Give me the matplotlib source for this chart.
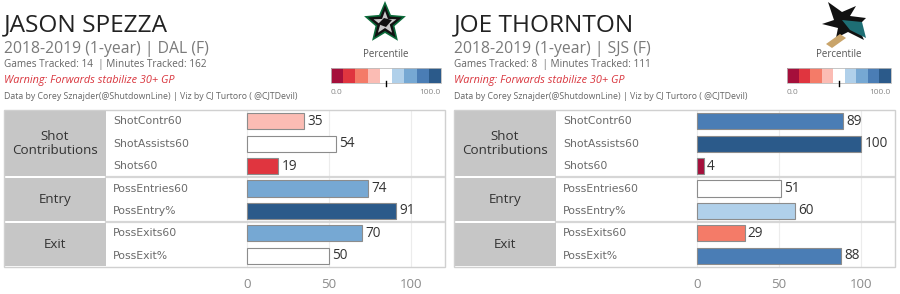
import numpy as np
import matplotlib.pyplot as plt
from matplotlib.patches import Rectangle, Polygon

W, H = 900, 294
plt.rcParams['font.family'] = ['Open Sans', 'DejaVu Sans']

# ---- data ----
players = ['JASON SPEZZA', 'JOE THORNTON']
teams = ['DAL', 'SJS']
season = '2018-2019 (1-year)'
games = [14, 8]
minutes = [162, 111]
metrics = ['ShotContr60', 'ShotAssists60', 'Shots60', 'PossEntries60',
           'PossEntry%', 'PossExits60', 'PossExit%']
groups = ['Shot\nContributions', 'Entry', 'Exit']
group_sizes = [3, 2, 2]
spezza = [35, 54, 19, 74, 91, 70, 50]
thornton = [89, 100, 4, 51, 60, 29, 88]
values = [spezza, thornton]
xticks = [0, 50, 100]

# stepped percentile palette (9 steps)
palette = ['#a50f3b', '#e0353f', '#f47b68', '#fbbcb4', '#ffffff',
           '#b0d0ea', '#76a8d3', '#4a7db5', '#2b5a8a']
edges = [11, 22, 33, 44, 56, 67, 78, 90]


def pct_color(v):
    return palette[int(np.searchsorted(edges, v, side='right'))]


def px_axes(x0, y0, x1, y1):
    return fig.add_axes([x0 / W, 1 - y1 / H, (x1 - x0) / W, (y1 - y0) / H])


fig = plt.figure(figsize=(9, 2.94), dpi=100)
fig.patch.set_facecolor('white')

# overlay in pixel coords for header stuff
ov = fig.add_axes([0, 0, 1, 1])
ov.set_xlim(0, W)
ov.set_ylim(H, 0)
ov.axis('off')


def star(cx, cy, ro, ri, rot=-90):
    ang = np.deg2rad(rot + np.arange(10) * 36)
    r = np.where(np.arange(10) % 2 == 0, ro, ri)
    return np.column_stack([cx + r * np.cos(ang), cy + r * np.sin(ang)])


for p in range(2):
    ox = p * 450
    vals = values[p]

    # ---- header ----
    ov.text(ox + 4, 31, players[p], fontsize=17.6, color='#222222', va='baseline')
    ov.text(ox + 4, 53, f'{season} | {teams[p]} (F)', fontsize=11.3,
            color='#7a7a7a', va='baseline')
    ov.text(ox + 4, 67, f'Games Tracked: {games[p]}  | Minutes Tracked: {minutes[p]}',
            fontsize=7.2, color='#666666', va='baseline')
    ov.text(ox + 4, 83, 'Warning: Forwards stabilize 30+ GP', fontsize=7.8,
            color='#d9363e', style='italic', va='baseline')
    ov.text(ox + 4, 99, 'Data by Corey Sznajder(@ShutdownLine) | Viz by CJ Turtoro ( @CJTDevil)',
            fontsize=6.3, color='#666666', va='baseline')

    # legend / colour scale
    cx0, cx1 = (331, 441) if p == 0 else (787, 891)
    cmid = (cx0 + cx1) / 2
    ov.text(cmid, 57, 'Percentile', fontsize=7, color='#555555', ha='center',
            va='baseline')
    step = (cx1 - cx0) / len(palette)
    for i, c in enumerate(palette):
        ov.add_patch(Rectangle((cx0 + i * step, 68), step, 15, facecolor=c,
                               edgecolor='none'))
    ov.add_patch(Rectangle((cx0, 68), cx1 - cx0, 15, facecolor='none',
                           edgecolor='#bbbbbb', lw=0.6))
    ov.plot([cmid, cmid], [81, 86], color='black', lw=1)
    ov.text(cx0, 94, '0.0', fontsize=6, color='#888888', va='baseline')
    ov.text(cx1, 94, '100.0', fontsize=6, color='#888888', ha='right', va='baseline')

    # logos (rough)
    if p == 0:
        ov.add_patch(Polygon(star(385, 23, 22, 10), facecolor='#0b6b3a', edgecolor='none'))
        ov.add_patch(Polygon(star(385, 23, 18, 8), facecolor='#111111', edgecolor='none'))
        ov.add_patch(Polygon(star(385, 23, 12, 5), facecolor='#c8c8c8', edgecolor='none'))
        ov.add_patch(Polygon([(378, 24), (384, 18), (392, 20), (386, 27)],
                             facecolor='#111111', edgecolor='none'))
    else:
        ov.add_patch(Polygon([(828, 2), (842, 12), (856, 6), (850, 16), (866, 18),
                              (858, 26), (864, 40), (848, 32), (836, 38), (838, 28),
                              (822, 24), (834, 20)],
                             facecolor='#111111', edgecolor='none'))
        ov.add_patch(Polygon([(842, 20), (862, 22), (866, 38), (850, 30)],
                             facecolor='#1e6e74', edgecolor='none'))
        ov.add_patch(Polygon([(826, 44), (840, 34), (846, 38), (832, 48)],
                             facecolor='#c9a46a', edgecolor='none'))

    # ---- table ----
    ax = px_axes(ox + 4, 110, ox + 445, 267)
    zero_px, scale = 247, 1.64
    xl = (4 - zero_px) / scale
    xr = (445 - zero_px) / scale
    xg = (106 - zero_px) / scale
    xlab = (113 - zero_px) / scale
    n = len(metrics)
    ax.set_xlim(xl, xr)
    ax.set_ylim(n, 0)
    ax.axis('off')

    # grey category cells
    start = 0
    for g, size in zip(groups, group_sizes):
        ax.add_patch(Rectangle((xl, start + 0.04), xg - xl, size - 0.08,
                               facecolor='#c6c6c6', edgecolor='none'))
        ax.text((xl + xg) / 2, start + size / 2, g, ha='center', va='center',
                fontsize=9.6, color='#333333', linespacing=1.05)
        if start > 0:
            ax.plot([xg, xr], [start, start], color='#d6d6d6', lw=1.6)
        start += size

    # gridlines
    for t in xticks:
        ax.plot([t, t], [0, n], color='#ececec', lw=0.8, zorder=0)

    y = np.arange(n) + 0.5
    ax.barh(y, vals, height=0.72, color=[pct_color(v) for v in vals],
            edgecolor='#8c8c8c', linewidth=0.8, zorder=2)
    for yi, m, v in zip(y, metrics, vals):
        ax.text(xlab, yi, m, fontsize=7.8, color='#6a6a6a', va='center',
                family='DejaVu Sans')
        ax.text(v + 2, yi, str(v), fontsize=9.8, color='#333333', va='center')

    ax.add_patch(Rectangle((xl, 0), xr - xl, n, facecolor='none',
                           edgecolor='#d0d0d0', lw=1, clip_on=False))

    # x tick labels
    for t in xticks:
        ov.text(ox + zero_px + t * scale, 285, str(t), fontsize=9.5,
                color='#8a8a8a', ha='center', va='center')

fig.savefig('out.png', dpi=100)
